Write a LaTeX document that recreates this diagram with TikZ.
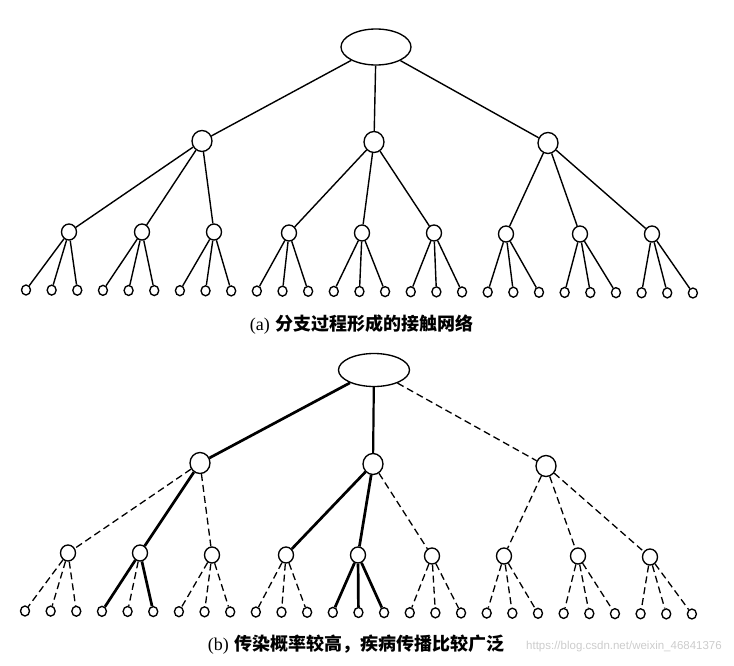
\documentclass[tikz,border=0pt]{standalone}
\usepackage{fontspec}
\newfontfamily\cjk{Noto Sans CJK SC}
\newfontfamily\wmfont{Liberation Sans}
\newfontfamily\capserif{Liberation Serif}
\usetikzlibrary{shapes.geometric}
\begin{document}
\begin{tikzpicture}[x=1pt,y=-1pt,
  rootnode/.style={draw,ellipse,line width=1.35pt,minimum width=70pt,minimum height=36pt,inner sep=0pt},
  lonenode/.style={draw,ellipse,line width=1.35pt,minimum width=20pt,minimum height=21pt,inner sep=0pt},
  ltwonode/.style={draw,ellipse,line width=1.35pt,minimum width=15pt,minimum height=16pt,inner sep=0pt},
  leafnode/.style={draw,ellipse,line width=1.35pt,minimum width=9pt,minimum height=10pt,inner sep=0pt},
  edge/.style={line width=1.4pt},
  hot/.style={line width=2.7pt},
  warm/.style={line width=2.2pt},
  cold/.style={line width=1.3pt,dash pattern=on 7pt off 4pt},
  caption/.style={inner sep=0pt,font=\fontsize{18}{20}\selectfont}
]
\useasboundingbox (0,0) rectangle (734,666);

% ---------------- tree (a) ----------------
\node[rootnode] (ar) at (376,47) {};
\node[lonenode] (a1) at (202,141) {};
\node[lonenode] (a2) at (374,142) {};
\node[lonenode] (a3) at (548,143) {};
\foreach \i/\x/\y in {1/69/232,2/142/232,3/214/232,4/289/233,5/362/233,6/434/233,7/506/234,8/580/234,9/652/234}
  \node[ltwonode] (a2\i) at (\x,\y) {};
\foreach \i in {0,...,26}
  \node[leafnode] (al\i) at ({26+25.65*\i},{290+3*\i/26}) {};
\foreach \c in {1,2,3} \draw[edge] (ar) -- (a\c);
\draw[edge] (a1) -- (a21); \draw[edge] (a1) -- (a22); \draw[edge] (a1) -- (a23);
\draw[edge] (a2) -- (a24); \draw[edge] (a2) -- (a25); \draw[edge] (a2) -- (a26);
\draw[edge] (a3) -- (a27); \draw[edge] (a3) -- (a28); \draw[edge] (a3) -- (a29);
\foreach \p in {1,...,9}{
  \pgfmathtruncatemacro{\la}{3*(\p-1)}
  \pgfmathtruncatemacro{\lb}{3*(\p-1)+1}
  \pgfmathtruncatemacro{\lc}{3*(\p-1)+2}
  \draw[edge] (a2\p) -- (al\la);
  \draw[edge] (a2\p) -- (al\lb);
  \draw[edge] (a2\p) -- (al\lc);
}
\node[caption] (capa) at (361.5,325) {{\capserif (a)} {\cjk\bfseries 分支过程形成的接触网络}};

% ---------------- tree (b) ----------------
\node[rootnode,minimum width=71pt,minimum height=33pt] (br) at (374,370) {};
\node[lonenode] (b1) at (200,463) {};
\node[lonenode] (b2) at (373,464) {};
\node[lonenode] (b3) at (546,466) {};
\foreach \i/\x/\y in {1/68/553,2/140/553,3/212/555,4/286/555,5/358/555,6/432/556,7/504/556,8/578/556,9/650/557}
  \node[ltwonode] (b2\i) at (\x,\y) {};
\foreach \i in {0,...,26}
  \node[leafnode] (bl\i) at ({25+25.65*\i},{611+3*\i/26}) {};
\draw[hot] (br) -- (b1);
\draw[warm] (br) -- (b2);
\draw[cold] (br) -- (b3);
\draw[cold] (b1) -- (b21); \draw[hot] (b1) -- (b22); \draw[cold] (b1) -- (b23);
\draw[hot] (b2) -- (b24); \draw[hot] (b2) -- (b25); \draw[cold] (b2) -- (b26);
\draw[cold] (b3) -- (b27); \draw[cold] (b3) -- (b28); \draw[cold] (b3) -- (b29);
% leaves
\draw[cold] (b21) -- (bl0); \draw[cold] (b21) -- (bl1); \draw[cold] (b21) -- (bl2);
\draw[hot] (b22) -- (bl3); \draw[cold] (b22) -- (bl4); \draw[hot] (b22) -- (bl5);
\draw[cold] (b23) -- (bl6); \draw[cold] (b23) -- (bl7); \draw[cold] (b23) -- (bl8);
\draw[cold] (b24) -- (bl9); \draw[cold] (b24) -- (bl10); \draw[cold] (b24) -- (bl11);
\draw[hot] (b25) -- (bl12); \draw[hot] (b25) -- (bl13); \draw[hot] (b25) -- (bl14);
\draw[cold] (b26) -- (bl15); \draw[cold] (b26) -- (bl16); \draw[cold] (b26) -- (bl17);
\draw[cold] (b27) -- (bl18); \draw[cold] (b27) -- (bl19); \draw[cold] (b27) -- (bl20);
\draw[cold] (b28) -- (bl21); \draw[cold] (b28) -- (bl22); \draw[cold] (b28) -- (bl23);
\draw[cold] (b29) -- (bl24); \draw[cold] (b29) -- (bl25); \draw[cold] (b29) -- (bl26);

\node[caption] (capb) at (356,645) {{\capserif (b)} {\cjk\bfseries 传染概率较高，疾病传播比较广泛}};
\node[inner sep=0pt,anchor=east,text=black!20,font=\wmfont\fontsize{11.5}{13}\selectfont] (wm) at (722,647) {https://blog.csdn.net/weixin\_46841376};
\end{tikzpicture}
\end{document}
